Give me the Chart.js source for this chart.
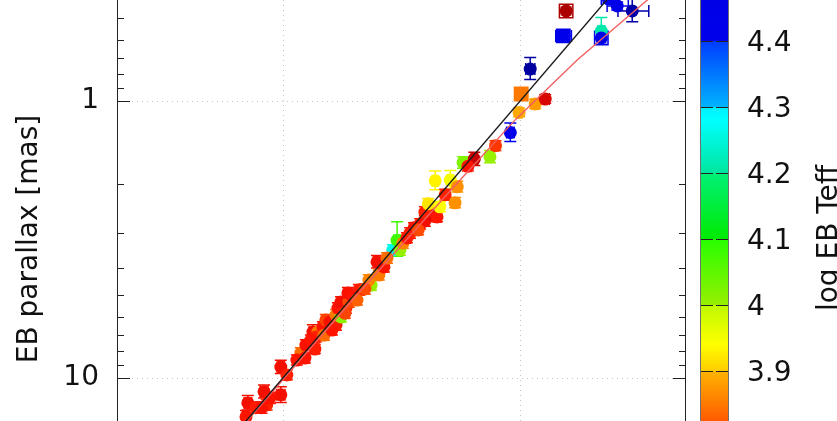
<!DOCTYPE html>
<html><head><meta charset="utf-8">
<script src="https://cdn.jsdelivr.net/npm/chart.js@4.4.1/dist/chart.umd.min.js"></script>
<style>html,body{margin:0;padding:0;background:#fff;overflow:hidden}canvas{display:block}</style>
</head><body>
<canvas id="c" width="837" height="421"></canvas>
<script>
// ---- data ----
// reference parallax (hidden x axis, mas)
const refPlx = [14.3,14.05,13.0,12.0,11.7,10.2,10.2,9.62,8.40,8.07,8.00,7.33,7.47,7.12,7.26,6.78,6.71,6.59,6.34,5.97,
 5.97,5.69,5.86,5.42,5.69,5.27,5.32,4.78,4.25,4.34,3.94,4.01,3.44,3.21,3.30,3.12,3.00,2.91,2.80,2.64,
 2.52,2.40,2.24,2.52,2.44,2.18,1.88,2.28,1.97,1.84,1.74,1.56,1.66,1.34,1.27,1.10,1.01,0.864,0.784,0.990,
 0.907,0.658,0.640,0.455,0.455,0.425,0.390,0.337,12.3,7.62,5.07,4.51,3.75,3.64,2.69,2.07,6.21,5.48,4.87,8.73,11.35];
// EB parallax (mas)
const ebPlx = [13.8,12.3,12.8,11.2,12.5,11.5,9.13,9.75,8.12,8.47,7.60,7.86,6.82,6.82,7.11,6.54,7.00,6.17,6.28,6.44,
 5.92,6.02,5.59,5.59,5.32,5.32,4.93,4.81,4.62,4.43,4.25,3.81,3.45,3.45,3.18,3.26,3.12,3.00,2.87,2.78,
 2.71,2.56,2.62,2.52,2.35,2.41,2.33,1.94,1.93,2.04,1.67,1.62,1.72,1.59,1.45,1.30,1.10,1.025,0.984,0.943,
 0.767,0.582,0.473,0.559,0.592,0.428,0.454,0.473,12.8,7.29,5.10,4.77,3.97,3.69,2.92,2.18,6.71,5.83,5.23,8.61,11.8];
const ebPlxErr = [0.7,0.75,0.6,0.6,0.55,0.75,0.5,0.4,0.35,0.35,0.33,0.3,0.4,0.3,0.3,0.28,0.3,0.27,0.27,0.28,
 0.26,0.26,0.24,0.24,0.23,0.23,0.22,0.21,0.2,0.19,0.18,0.2,0.15,0.15,0.45,0.14,0.13,0.13,0.12,0.12,
 0.12,0.14,0.11,0.11,0.1,0.1,0.1,0.15,0.15,0.09,0.08,0.09,0.07,0.08,0.06,0.1,0.04,0.04,0.035,0.03,
 0.07,0.02,0.015,0.06,0.03,0.015,0.015,0.045,0.6,0.3,0.22,0.2,0.17,0.16,0.12,0.1,0.28,0.25,0.22,0.36,0.55];
const refPlxErr = [0.5,0.5,0.45,0.45,0.4,0.4,0.35,0.35,0.3,0.3,0.3,0.28,0.28,0.25,0.25,0.25,0.25,0.23,0.22,0.22,
 0.2,0.2,0.2,0.2,0.2,0.19,0.19,0.17,0.15,0.15,0.14,0.14,0.12,0.11,0.11,0.11,0.1,0.1,0.1,0.09,
 0.09,0.08,0.08,0.08,0.08,0.07,0.06,0.07,0.06,0.06,0.06,0.05,0.05,0.05,0.04,0.04,0.03,0.03,0.03,0.03,
 0.04,0.05,0.015,0.015,0.02,0.03,0.04,0.05,0.45,0.28,0.18,0.16,0.13,0.12,0.09,0.07,0.22,0.2,0.17,0.3,0.4];
const logTeff = [3.72,3.70,3.73,3.70,3.74,3.70,3.70,3.74,3.84,3.72,3.71,3.73,3.70,3.85,3.74,3.72,3.84,3.79,3.71,3.73,
 3.85,4.01,3.72,3.74,3.70,3.80,3.71,3.73,4.00,3.86,3.85,3.70,4.26,4.00,4.08,3.86,3.72,3.74,3.71,3.73,
 3.70,3.66,3.72,3.74,3.92,3.94,3.87,3.93,3.95,3.87,4.02,3.62,3.72,4.00,3.77,4.42,3.89,3.88,3.65,3.85,
 4.56,4.42,3.58,4.21,4.43,4.42,4.44,4.55,3.71,3.72,3.72,3.80,3.71,3.84,3.80,3.74,3.72,3.79,3.83,3.72,3.71];
// 0 = circle, 1 = filled square, 2 = open square
const markerType = [0,0,0,0,0,0,0,0,0,0,0,0,0,0,0,0,0,0,0,0, 0,0,0,0,0,0,0,0,0,0,0,0,0,0,0,0,0,0,0,0,
 0,0,0,0,0,0,0,0,0,0,0,0,0,0,0,0,0,0,0,1, 0,1,2,0,2,0,0,0,0,0,0,0,0,0,0,0,0,0,0,0,0];
// 1:1 relation and fitted relation
const oneToOneX = [0.2, 50];
const oneToOneY = [0.2, 50];
const fitX = [0.2, 0.291, 0.575, 1.05, 2, 5, 10, 20, 50];
const fitY = [0.335, 0.432, 0.711, 1.17, 2.14, 5.14, 10.14, 20.14, 50.14];
// ticks
const yMajorTicks = [1, 10];
const yMinorTicks = [0.5, 0.6, 0.7, 0.8, 0.9, 2, 3, 4, 5, 6, 7, 8, 9, 20];
const xMajorTicks = [1, 10];
const cbTicks = [3.9, 4.0, 4.1, 4.2, 4.3, 4.4];

// ---- colour map (style) ----
const CMAP = [[3.50,120,0,0],[3.62,200,0,0],[3.72,255,20,0],[3.824,255,90,0],[3.8999,255,180,0],[3.90,255,205,0],
 [3.94,255,255,0],[3.9999,190,250,0],[4.00,150,240,0],[4.0999,40,255,0],[4.10,0,235,0],[4.1999,0,240,120],
 [4.20,0,230,160],[4.28,0,255,255],[4.2999,0,240,255],[4.30,0,180,255],[4.3999,0,60,255],[4.40,0,0,235],
 [4.47,0,0,230],[4.60,0,0,130]];
function cmap(t){
  if (t <= CMAP[0][0]) return `rgb(${CMAP[0][1]},${CMAP[0][2]},${CMAP[0][3]})`;
  for (let i = 1; i < CMAP.length; i++) {
    if (t <= CMAP[i][0]) {
      const a = CMAP[i-1], b = CMAP[i], f = (t - a[0]) / (b[0] - a[0]);
      const c = k => Math.round(a[k] + (b[k] - a[k]) * f);
      return `rgb(${c(1)},${c(2)},${c(3)})`;
    }
  }
  const l = CMAP[CMAP.length-1];
  return `rgb(${l[1]},${l[2]},${l[3]})`;
}

const colors = logTeff.map(cmap);
const pts = refPlx.map((x, i) => ({x, y: ebPlx[i]}));
const sqIdx = markerType.map((m, i) => m ? i : -1).filter(i => i >= 0);
const sqPts = sqIdx.map(i => ({x: refPlx[i], y: ebPlx[i]}));
const sqBorder = sqIdx.map(i => colors[i]);
const sqFill = sqIdx.map(i => markerType[i] === 1 ? colors[i] : 'rgba(255,255,255,0.55)');

const FONT = '"DejaVu Sans", sans-serif';
Chart.defaults.font.family = FONT;
const CAP = 6;

const decor = {
  id: 'decor',
  beforeDatasetsDraw(chart) {
    const {ctx, chartArea: a, scales: {x, y}} = chart;
    ctx.save();
    ctx.beginPath(); ctx.rect(a.left, a.top, a.right - a.left, a.bottom - a.top); ctx.clip();
    ctx.strokeStyle = '#c4c4c4'; ctx.lineWidth = 1; ctx.setLineDash([1, 4]);
    yMajorTicks.forEach(v => { const p = Math.round(y.getPixelForValue(v)) + 0.5;
      ctx.beginPath(); ctx.moveTo(a.left, p); ctx.lineTo(a.right, p); ctx.stroke(); });
    xMajorTicks.forEach(v => { const p = Math.round(x.getPixelForValue(v)) + 0.5;
      ctx.beginPath(); ctx.moveTo(p, a.top); ctx.lineTo(p, a.bottom); ctx.stroke(); });
    ctx.setLineDash([]);
    ctx.lineWidth = 1.5;
    for (let i = 0; i < refPlx.length; i++) {
      const px = x.getPixelForValue(refPlx[i]), py = y.getPixelForValue(ebPlx[i]);
      const y1 = y.getPixelForValue(ebPlx[i] - ebPlxErr[i]), y2 = y.getPixelForValue(ebPlx[i] + ebPlxErr[i]);
      const x1 = x.getPixelForValue(refPlx[i] - refPlxErr[i]), x2 = x.getPixelForValue(refPlx[i] + refPlxErr[i]);
      ctx.strokeStyle = colors[i];
      ctx.beginPath();
      ctx.moveTo(px, y1); ctx.lineTo(px, y2);
      ctx.moveTo(px - CAP, y1); ctx.lineTo(px + CAP, y1);
      ctx.moveTo(px - CAP, y2); ctx.lineTo(px + CAP, y2);
      ctx.moveTo(x1, py); ctx.lineTo(x2, py);
      ctx.moveTo(x1, py - CAP); ctx.lineTo(x1, py + CAP);
      ctx.moveTo(x2, py - CAP); ctx.lineTo(x2, py + CAP);
      ctx.stroke();
    }
    ctx.restore();
  },
  afterDatasetsDraw(chart) {
    const {ctx, chartArea: a, scales: {y, cb}} = chart;
    ctx.save();
    // frame
    ctx.strokeStyle = '#222'; ctx.lineWidth = 1;
    ctx.beginPath();
    ctx.moveTo(a.left + 0.5, a.top); ctx.lineTo(a.left + 0.5, a.bottom);
    ctx.moveTo(a.right - 0.5, a.top); ctx.lineTo(a.right - 0.5, a.bottom);
    ctx.stroke();
    // inward ticks
    const tick = (v, len) => { const p = Math.round(y.getPixelForValue(v)) + 0.5;
      ctx.beginPath(); ctx.moveTo(a.left, p); ctx.lineTo(a.left + len, p);
      ctx.moveTo(a.right, p); ctx.lineTo(a.right - len, p); ctx.stroke(); };
    yMajorTicks.forEach(v => tick(v, 13));
    yMinorTicks.forEach(v => tick(v, 7));
    // colour bar
    const cbL = a.right + 15, cbW = 27;
    for (let py = Math.floor(cb.top); py < cb.bottom; py++) {
      ctx.fillStyle = cmap(cb.getValueForPixel(py + 0.5));
      ctx.fillRect(cbL, py, cbW, 1);
    }
    ctx.strokeStyle = '#707070';
    ctx.beginPath();
    ctx.moveTo(cbL - 0.5, cb.top); ctx.lineTo(cbL - 0.5, cb.bottom);
    ctx.moveTo(cbL + cbW + 0.5, cb.top); ctx.lineTo(cbL + cbW + 0.5, cb.bottom);
    ctx.stroke();
    ctx.strokeStyle = '#222';
    cbTicks.forEach(v => { const p = Math.round(cb.getPixelForValue(v)) + 0.5;
      ctx.beginPath(); ctx.moveTo(cbL, p); ctx.lineTo(cbL + 12, p);
      ctx.moveTo(cbL + cbW, p); ctx.lineTo(cbL + cbW - 12, p); ctx.stroke(); });
    // titles
    ctx.fillStyle = '#111';
    ctx.font = '28px ' + FONT;
    ctx.textAlign = 'center'; ctx.textBaseline = 'alphabetic';
    ctx.save(); ctx.translate(37, 239); ctx.rotate(-Math.PI / 2);
    ctx.fillText('EB parallax [mas]', 0, 0); ctx.restore();
    ctx.save(); ctx.translate(837, 238); ctx.rotate(-Math.PI / 2);
    ctx.fillText('log EB Teff', 0, 0); ctx.restore();
    ctx.restore();
  }
};

new Chart(document.getElementById('c'), {
  type: 'scatter',
  data: { datasets: [
    { data: oneToOneX.map((x, i) => ({x, y: oneToOneY[i]})), showLine: true, borderColor: '#1c1c1c',
      borderWidth: 1.4, pointRadius: 0, order: 0 },
    { data: fitX.map((x, i) => ({x, y: fitY[i]})), showLine: true, borderColor: '#f06060',
      borderWidth: 1.4, pointRadius: 0, order: 1 },
    { data: pts, pointRadius: 6.5, pointBackgroundColor: colors, pointBorderWidth: 0, order: 2 },
    { data: sqPts, pointStyle: 'rect', pointRadius: 9.5, pointBorderColor: sqBorder,
      pointBackgroundColor: sqFill, pointBorderWidth: 1.5, order: 3 }
  ]},
  options: {
    responsive: false, animation: false, events: [],
    layout: { padding: 0, autoPadding: false },
    plugins: { legend: { display: false }, tooltip: { enabled: false } },
    scales: {
      x: { type: 'logarithmic', reverse: true, min: 0.2, max: 50, display: false },
      y: { type: 'logarithmic', reverse: true, min: 0.4319, max: 14.29, position: 'left',
           grid: { display: false, drawTicks: false }, border: { display: false },
           ticks: { font: { size: 28 }, color: '#111', padding: 18, autoSkip: false, callback: v => String(v) },
           afterBuildTicks: s => { s.ticks = yMajorTicks.map(v => ({value: v})); },
           afterFit: s => { s.width = 117; s.paddingTop = 0; s.paddingBottom = 0; } },
      cb: { type: 'linear', position: 'right', min: 3.8242, max: 4.4621,
            grid: { display: false, drawTicks: false }, border: { display: false },
            ticks: { font: { size: 28 }, color: '#111', padding: 61, labelOffset: 3, autoSkip: false,
                     callback: v => (Math.abs(v - 4) < 1e-9 ? '4' : v.toFixed(1)) },
            afterBuildTicks: s => { s.ticks = cbTicks.map(v => ({value: v})); },
            afterFit: s => { s.width = 151; s.paddingTop = 0; s.paddingBottom = 0; } }
    }
  },
  plugins: [decor]
});
</script>
</body></html>
